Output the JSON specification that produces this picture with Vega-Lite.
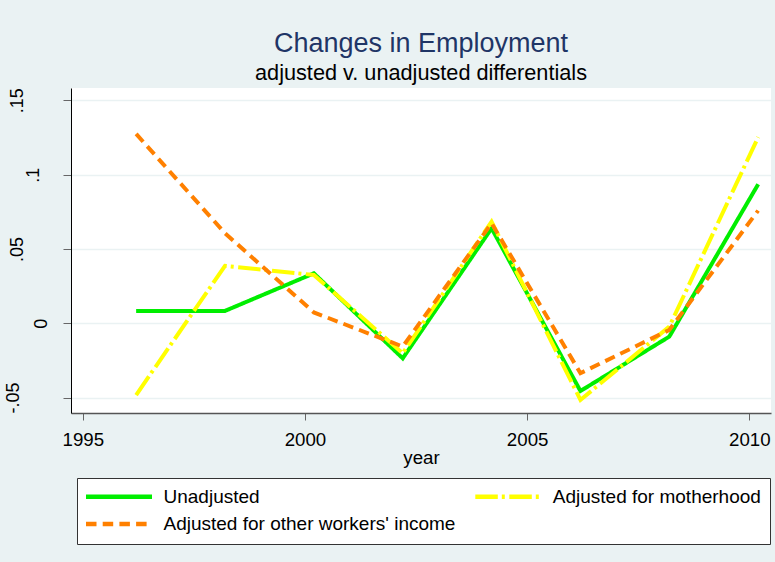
{
  "$schema": "https://vega.github.io/schema/vega-lite/v6.json",
  "width": 700,
  "height": 325,
  "autosize": {"type": "none"},
  "padding": {"left": 71, "top": 88, "right": 4, "bottom": 149},
  "background": "#eaf2f3",
  "config": {
    "view": {"fill": "white", "stroke": null},
    "font": "Liberation Sans"
  },
  "title": {
    "text": "Changes in Employment",
    "subtitle": "adjusted v. unadjusted differentials",
    "fontSize": 27,
    "subtitleFontSize": 21.7,
    "color": "#1f3566",
    "subtitleColor": "black",
    "font": "Liberation Sans",
    "subtitleFont": "Liberation Sans",
    "fontWeight": "normal",
    "anchor": "middle",
    "frame": "group",
    "offset": 2,
    "subtitlePadding": 5
  },
  "data": {
    "values": [
      {"year": 1996.2, "diff": 0.0083, "series": "Unadjusted"},
      {"year": 1998.2, "diff": 0.0083, "series": "Unadjusted"},
      {"year": 2000.2, "diff": 0.0336, "series": "Unadjusted"},
      {"year": 2002.2, "diff": -0.0236, "series": "Unadjusted"},
      {"year": 2004.2, "diff": 0.0639, "series": "Unadjusted"},
      {"year": 2006.2, "diff": -0.0456, "series": "Unadjusted"},
      {"year": 2008.2, "diff": -0.009, "series": "Unadjusted"},
      {"year": 2010.2, "diff": 0.0935, "series": "Unadjusted"},
      {"year": 1996.2, "diff": -0.0483, "series": "Adjusted for motherhood"},
      {"year": 1998.2, "diff": 0.0386, "series": "Adjusted for motherhood"},
      {"year": 2000.2, "diff": 0.0325, "series": "Adjusted for motherhood"},
      {"year": 2002.2, "diff": -0.0202, "series": "Adjusted for motherhood"},
      {"year": 2004.2, "diff": 0.0684, "series": "Adjusted for motherhood"},
      {"year": 2006.2, "diff": -0.0516, "series": "Adjusted for motherhood"},
      {"year": 2008.2, "diff": -0.0023, "series": "Adjusted for motherhood"},
      {"year": 2010.2, "diff": 0.1252, "series": "Adjusted for motherhood"},
      {"year": 1996.2, "diff": 0.1274, "series": "Adjusted for other workers' income"},
      {"year": 1998.2, "diff": 0.0606, "series": "Adjusted for other workers' income"},
      {"year": 2000.2, "diff": 0.0073, "series": "Adjusted for other workers' income"},
      {"year": 2002.2, "diff": -0.0157, "series": "Adjusted for other workers' income"},
      {"year": 2004.2, "diff": 0.0673, "series": "Adjusted for other workers' income"},
      {"year": 2006.2, "diff": -0.0336, "series": "Adjusted for other workers' income"},
      {"year": 2008.2, "diff": -0.0045, "series": "Adjusted for other workers' income"},
      {"year": 2010.2, "diff": 0.0758, "series": "Adjusted for other workers' income"}
    ]
  },
  "mark": {"type": "line", "strokeWidth": 4},
  "encoding": {
    "x": {
      "field": "year",
      "type": "quantitative",
      "scale": {"domain": [1994.734, 2010.489], "nice": false, "zero": false},
      "axis": {
        "values": [1995, 2000, 2005, 2010],
        "format": "d",
        "title": "year",
        "grid": false,
        "labelFontSize": 18.7,
        "labelFont": "Liberation Sans",
        "labelColor": "black",
        "labelPadding": 10,
        "labelFlush": false,
        "labelOverlap": false,
        "tickSize": 7,
        "tickColor": "#666666",
        "domainColor": "#555555",
        "domainWidth": 1.5,
        "titleFontSize": 18.7,
        "titleFont": "Liberation Sans",
        "titleFontWeight": "normal",
        "titleColor": "black",
        "titlePadding": 0
      }
    },
    "y": {
      "field": "diff",
      "type": "quantitative",
      "scale": {"domain": [-0.0604, 0.1583], "nice": false, "zero": false},
      "axis": {
        "values": [-0.05, 0, 0.05, 0.1, 0.15],
        "title": null,
        "grid": true,
        "gridColor": "#eaf2f3",
        "gridWidth": 1.5,
        "labelAngle": 270,
        "labelAlign": "center",
        "labelBaseline": "alphabetic",
        "labelFontSize": 18,
        "labelFont": "Liberation Sans",
        "labelColor": "black",
        "labelExpr": "abs(datum.value) < 0.001 ? '0' : replace(toString(round(datum.value * 100) / 100), '0.', '.')",
        "labelOverlap": false,
        "labelFlush": false,
        "labelPadding": {
          "condition": [
            {"test": "abs(datum.value) < 0.001", "value": 16.3},
            {"test": "abs(datum.value - 0.1) < 0.001", "value": 24.7},
            {"test": "datum.value < -0.01", "value": 44.7}
          ],
          "value": 40.5
        },
        "tickSize": 8,
        "tickColor": "#666666",
        "domainColor": "black",
        "domainWidth": 1
      }
    },
    "color": {
      "field": "series",
      "type": "nominal",
      "scale": {
        "domain": ["Unadjusted", "Adjusted for motherhood", "Adjusted for other workers' income"],
        "range": ["#00ee00", "#ffff00", "#ff8000"]
      },
      "legend": {
        "title": null,
        "orient": "none",
        "direction": "horizontal",
        "legendX": 6,
        "legendY": 390,
        "columns": 2,
        "columnPadding": 10.3,
        "rowPadding": 7.6,
        "padding": 9,
        "fillColor": "white",
        "strokeColor": "#333333",
        "symbolType": "M-4.714,0H4.714",
        "symbolSize": 196,
        "symbolStrokeWidth": 4.5,
        "symbolOffset": 23.5,
        "labelOffset": 35,
        "labelFontSize": 19,
        "labelFont": "Liberation Sans",
        "labelColor": "black",
        "labelLimit": 400
      }
    },
    "strokeDash": {
      "field": "series",
      "type": "nominal",
      "scale": {
        "domain": ["Unadjusted", "Adjusted for motherhood", "Adjusted for other workers' income"],
        "range": [[1, 0], [22.5, 4, 3, 4.5], [10.5, 6.2]]
      },
      "legend": {
        "title": null,
        "orient": "none",
        "direction": "horizontal",
        "legendX": 6,
        "legendY": 390,
        "columns": 2,
        "columnPadding": 10.3,
        "rowPadding": 7.6,
        "padding": 9,
        "fillColor": "white",
        "strokeColor": "#333333",
        "symbolType": "M-4.714,0H4.714",
        "symbolSize": 196,
        "symbolStrokeWidth": 4.5,
        "symbolOffset": 23.5,
        "labelOffset": 35,
        "labelFontSize": 19,
        "labelFont": "Liberation Sans",
        "labelColor": "black",
        "labelLimit": 400
      }
    }
  }
}
